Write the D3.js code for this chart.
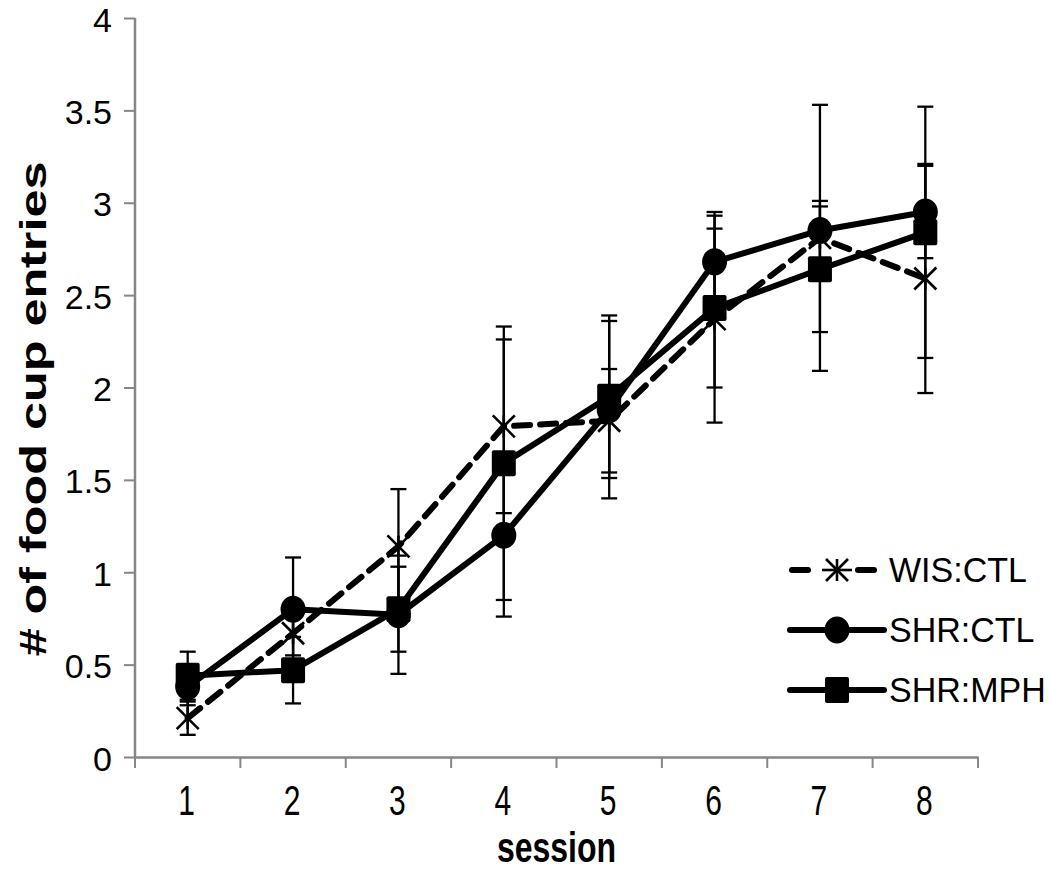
<!DOCTYPE html>
<html>
<head>
<meta charset="utf-8">
<script src="https://cdn.jsdelivr.net/npm/d3@7"></script>
<style>
  html, body { margin: 0; padding: 0; background: #fff; }
  svg { display: block; font-family: "Liberation Sans", Arial, sans-serif; }
</style>
</head>
<body>
<svg id="chart" width="1050" height="870"></svg>
<script>
const sessions = ["1", "2", "3", "4", "5", "6", "7", "8"];
const yTicks = [0, 0.5, 1, 1.5, 2, 2.5, 3, 3.5, 4];
const seriesNames = ["WIS:CTL", "SHR:CTL", "SHR:MPH"];
const wisCtl = [0.21, 0.67, 1.14, 1.79, 1.82, 2.37, 2.81, 2.59];
const wisCtlErr = [0.09, 0.12, 0.31, 0.47, 0.28, 0.56, 0.72, 0.62];
const shrCtl = [0.38, 0.80, 0.77, 1.20, 1.88, 2.68, 2.85, 2.95];
const shrCtlErr = [0.10, 0.28, 0.32, 0.44, 0.48, 0.27, 0.16, 0.25];
const shrMph = [0.44, 0.47, 0.80, 1.59, 1.95, 2.43, 2.64, 2.84];
const shrMphErr = [0.13, 0.18, 0.23, 0.74, 0.44, 0.43, 0.34, 0.68];

(function () {
const series = [
  { name: seriesNames[0], values: wisCtl, err: wisCtlErr, marker: "star", dash: "16,10" },
  { name: seriesNames[1], values: shrCtl, err: shrCtlErr, marker: "circle", dash: null },
  { name: seriesNames[2], values: shrMph, err: shrMphErr, marker: "square", dash: null }
];

const svg = d3.select("#chart");
const mLeft = 135, mRight = 978, mTop = 18, mBottom = 757;
const axisColor = "#868686";

const x = d3.scaleBand().domain(sessions).range([mLeft, mRight]).paddingInner(0).paddingOuter(0);
const y = d3.scaleLinear().domain([0, 4]).range([mBottom, mTop]);
const cx = s => x(s) + x.bandwidth() / 2;

// helper: stretched text
function sText(g, tx, ty, str, size, sy, anchor, weight, rotate) {
  const t = g.append("text")
    .attr("transform", `translate(${tx},${ty})` + (rotate ? ` rotate(${rotate})` : "") +
      (rotate ? ` scale(${sy},1)` : ` scale(1,${sy})`))
    .attr("text-anchor", anchor).attr("font-size", size).attr("fill", "#000")
    .text(str);
  if (weight) t.attr("font-weight", weight);
  return t;
}

// Y axis (ticks via d3 axis, labels from the same scale)
const yAxis = svg.append("g")
  .attr("transform", `translate(${mLeft},0)`)
  .call(d3.axisLeft(y).tickValues(yTicks).tickSize(11).tickFormat(""));
yAxis.select(".domain").attr("stroke", axisColor).attr("stroke-width", 2.5).attr("d", `M0,${y(4)}V${y(0)}`);
yAxis.selectAll(".tick line").attr("stroke", axisColor).attr("stroke-width", 2);
const yLab = svg.append("g");
yTicks.forEach(v => sText(yLab, 112, y(v) + 13.5, String(v), 34, 1.0, "end"));

// X axis
const bounds = sessions.map(s => x(s)).concat([x(sessions[sessions.length - 1]) + x.bandwidth()]);
const xAxis = svg.append("g")
  .attr("transform", `translate(0,${mBottom})`)
  .call(d3.axisBottom(x).tickSize(0).tickFormat(""));
xAxis.select(".domain").attr("stroke", axisColor).attr("stroke-width", 2.5);
svg.append("g").selectAll("line").data(bounds).join("line")
  .attr("x1", d => d).attr("x2", d => d).attr("y1", mBottom).attr("y2", mBottom + 11)
  .attr("stroke", axisColor).attr("stroke-width", 2);
const xLab = svg.append("g");
sessions.forEach(s => sText(xLab, cx(s) - 1, 815, s, 30, 1.4, "middle"));

// Axis titles
sText(svg, (mLeft + mRight) / 2, 862, "session", 32, 1.35, "middle", "bold");
sText(svg, 46, 409, "# of food cup entries", 37, 1.36, "middle", "bold", -90);

// Error bars
const capW = 8;
series.forEach(s => {
  const g = svg.append("g").attr("stroke", "#000").attr("stroke-width", 2.3);
  sessions.forEach((sess, i) => {
    const xc = cx(sess), y1 = y(s.values[i] + s.err[i]), y2 = y(s.values[i] - s.err[i]);
    g.append("line").attr("x1", xc).attr("x2", xc).attr("y1", y1).attr("y2", y2);
    g.append("line").attr("x1", xc - capW).attr("x2", xc + capW).attr("y1", y1).attr("y2", y1);
    g.append("line").attr("x1", xc - capW).attr("x2", xc + capW).attr("y1", y2).attr("y2", y2);
  });
});

// Lines
const line = d3.line().x((d, i) => cx(sessions[i])).y(d => y(d));
series.forEach(s => {
  svg.append("path").datum(s.values)
    .attr("d", line).attr("fill", "none").attr("stroke", "#000")
    .attr("stroke-width", 6).attr("stroke-linejoin", "round")
    .attr("stroke-linecap", s.dash ? "round" : "butt")
    .attr("stroke-dasharray", s.dash);
});

function drawMarker(g, type, px, py) {
  if (type === "circle") {
    g.append("ellipse").attr("cx", px).attr("cy", py).attr("rx", 12.5).attr("ry", 13.5).attr("fill", "#000");
  } else if (type === "square") {
    g.append("rect").attr("x", px - 12).attr("y", py - 13).attr("width", 24).attr("height", 26)
      .attr("rx", 2).attr("fill", "#000");
  } else {
    const r = 11;
    const sg = g.append("g").attr("stroke", "#000").attr("stroke-width", 2.6);
    sg.append("line").attr("x1", px - r).attr("y1", py - r).attr("x2", px + r).attr("y2", py + r);
    sg.append("line").attr("x1", px - r).attr("y1", py + r).attr("x2", px + r).attr("y2", py - r);
    sg.append("line").attr("x1", px).attr("y1", py - r).attr("x2", px).attr("y2", py + r);
  }
}

// Markers
series.forEach(s => {
  const g = svg.append("g");
  s.values.forEach((v, i) => drawMarker(g, s.marker, cx(sessions[i]), y(v)));
});

// Legend
const legY = [570, 630, 690];
series.forEach((s, i) => {
  const g = svg.append("g");
  const ly = legY[i];
  if (s.dash) {
    g.append("line").attr("x1", 792).attr("x2", 808).attr("y1", ly).attr("y2", ly)
      .attr("stroke", "#000").attr("stroke-width", 6).attr("stroke-linecap", "round");
    g.append("line").attr("x1", 858).attr("x2", 874).attr("y1", ly).attr("y2", ly)
      .attr("stroke", "#000").attr("stroke-width", 6).attr("stroke-linecap", "round");
    drawMarker(g, "star", 837, ly);
    g.append("line").attr("x1", 822).attr("x2", 852).attr("y1", ly).attr("y2", ly)
      .attr("stroke", "#000").attr("stroke-width", 2.6);
  } else {
    g.append("line").attr("x1", 790).attr("x2", 884).attr("y1", ly).attr("y2", ly)
      .attr("stroke", "#000").attr("stroke-width", 6).attr("stroke-linecap", "round");
    drawMarker(g, s.marker, 837, ly);
  }
  sText(g, 889, ly + 12, s.name, 34, 1.05, "start");
});
})();
</script>
</body>
</html>
